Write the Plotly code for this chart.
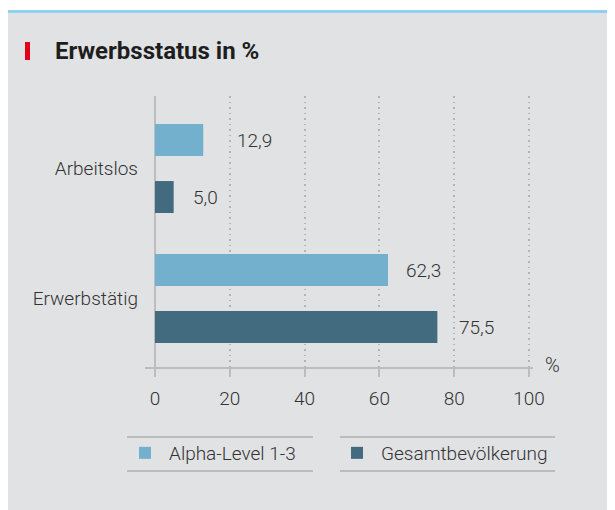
import plotly.graph_objects as go

# ---- data ----
categories = ["Arbeitslos", "Erwerbstätig"]
series_names = ["Alpha-Level 1-3", "Gesamtbevölkerung"]
alpha_values = [12.9, 62.3]
gesamt_values = [5.0, 75.5]
alpha_labels = ["12,9", "62,3"]
gesamt_labels = ["5,0", "75,5"]
x_ticks = [0, 20, 40, 60, 80, 100]
title_text = "Erwerbsstatus in %"
unit_text = "%"

# ---- style ----
OFF = 8  # page body margin
W, H = 615 - OFF, 510 - OFF
L, R, T, B = 145 - OFF, 82, 96 - OFF, 143
PW, PH = W - L - R, H - T - B
BG = "#e1e2e4"
LIGHT = "#72b0ce"
DARK = "#436b80"
TXT = "#333333"
FONT = "Roboto, DejaVu Sans Condensed, sans-serif"


def px_x(p):
    return (p - OFF - L) / PW


def px_y(p):
    return (H - B - (p - OFF)) / PH


fig = go.Figure()
fig.add_trace(go.Bar(
    y=categories, x=gesamt_values, name=series_names[1], orientation="h",
    marker=dict(color=DARK, line=dict(width=0)), hoverinfo="skip", legend="legend2",
))
fig.add_trace(go.Bar(
    y=categories, x=alpha_values, name=series_names[0], orientation="h",
    marker=dict(color=LIGHT, line=dict(width=0)), hoverinfo="skip", legend="legend",
))

lab_font = dict(family=FONT, size=19, color=TXT, weight=300)
annotations = []
alpha_gaps = [32, 16]
gesamt_gaps = [17, 20]
for i, c in enumerate(categories):
    annotations.append(dict(x=alpha_values[i], y=c, yshift=28.5, xshift=alpha_gaps[i],
                            text=alpha_labels[i], showarrow=False, xanchor="left",
                            yanchor="middle", font=lab_font))
    annotations.append(dict(x=gesamt_values[i], y=c, yshift=-28.5, xshift=gesamt_gaps[i],
                            text=gesamt_labels[i], showarrow=False, xanchor="left",
                            yanchor="middle", font=lab_font))

annotations.append(dict(xref="paper", yref="paper", x=px_x(53), y=px_y(51),
                        text="<b>" + title_text + "</b>", showarrow=False,
                        xanchor="left", yanchor="middle",
                        font=dict(family=FONT, size=24, color="#1e1e1e")))
annotations.append(dict(xref="paper", yref="paper", x=px_x(552), y=px_y(365),
                        text=unit_text, showarrow=False, xanchor="center",
                        yanchor="middle", font=dict(family=FONT, size=20, color=TXT, weight=300)))

shapes = [
    dict(type="rect", xref="paper", yref="paper", x0=px_x(6), x1=px_x(620),
         y0=px_y(12), y1=px_y(520), fillcolor=BG, line=dict(width=0), layer="below"),
    dict(type="rect", xref="paper", yref="paper", x0=px_x(6), x1=px_x(620),
         y0=px_y(10), y1=px_y(13), fillcolor="#8fd1f1", line=dict(width=0), layer="below"),
    dict(type="rect", xref="paper", yref="paper", x0=px_x(25), x1=px_x(30),
         y0=px_y(42), y1=px_y(60), fillcolor="#e2001a", line=dict(width=0)),
]
for x0, x1 in [(127, 313), (340, 555)]:
    for yy in (437, 471):
        shapes.append(dict(type="line", xref="paper", yref="paper", x0=px_x(x0), x1=px_x(x1),
                           y0=px_y(yy), y1=px_y(yy), line=dict(color="#bcbcbc", width=2)))

legend_common = dict(orientation="h", y=px_y(434), xanchor="left", yanchor="top",
                     font=lab_font, itemwidth=38, bgcolor="rgba(0,0,0,0)", borderwidth=0,
                     itemclick=False, itemdoubleclick=False)

fig.update_layout(
    width=W, height=H,
    margin=dict(l=L, r=R, t=T, b=B, pad=0),
    paper_bgcolor="white", plot_bgcolor=BG,
    barmode="group", bargap=0.123, bargroupgap=0.439,
    showlegend=True,
    legend=dict(x=px_x(121), **legend_common),
    legend2=dict(x=px_x(333), **legend_common),
    xaxis=dict(range=[-10 / 3.75, 100 + 4 / 3.75], tickvals=x_ticks,
               ticktext=[str(v) for v in x_ticks], showgrid=True, gridcolor="#b4b4b4",
               griddash="1.5px,4px", gridwidth=1.5, zeroline=True, zerolinecolor="#bdbdbd",
               zerolinewidth=2, showline=True, linecolor="#bdbdbd", linewidth=2,
               ticks="outside", ticklen=8, tickwidth=2, tickcolor="#bdbdbd",
               tickfont=lab_font, ticklabelstandoff=5, fixedrange=True),
    yaxis=dict(type="category", categoryorder="array", categoryarray=categories[::-1],
               range=[-0.527, 1.558], showgrid=False, zeroline=False, showline=False,
               ticks="", tickfont=lab_font, ticklabelstandoff=6, fixedrange=True),
    annotations=annotations,
    shapes=shapes,
)

fig.write_html("out.html")
